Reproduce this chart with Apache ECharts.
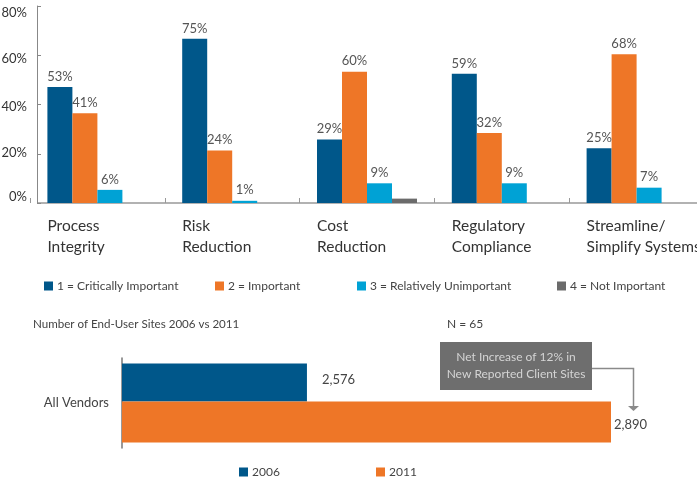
<!DOCTYPE html>
<html>
<head>
<meta charset="utf-8">
<script src="https://cdn.jsdelivr.net/npm/echarts@6/dist/echarts.min.js"></script>
<style>
html,body{margin:0;padding:0;background:#fff;}
#chart{width:697px;height:480px;}
</style>
</head>
<body>
<div id="chart"></div>
<script>
// ---- Data ----
var categories = ['Process\nIntegrity', 'Risk\nReduction', 'Cost\nReduction', 'Regulatory\nCompliance', 'Streamline/\nSimplify Systems'];
var seriesNames = ['1 = Critically Important', '2 = Important', '3 = Relatively Unimportant', '4 = Not Important'];
var critical = [53, 75, 29, 59, 25];
var important = [41, 24, 60, 32, 68];
var relUnimportant = [6, 1, 9, 9, 7];
var notImportant = [null, null, 2, null, null];
var yTickLabels = ['0%', '20%', '40%', '60%', '80%'];

var siteCategories = ['All Vendors'];
var siteYears = ['2006', '2011'];
var sites2006 = [2576];
var sites2011 = [2890];

var subtitle = 'Number of End-User Sites 2006 vs 2011';
var nText = 'N = 65';
var noteText = 'Net Increase of 12% in\nNew Reported Client Sites';

// ---- Style ----
var FONT = 'Lato, "Open Sans", sans-serif';
var C_BLUE = '#00578a', C_ORANGE = '#ee7627', C_CYAN = '#00a2d5', C_GRAY = '#6b6b6b';

function fmtThousands(v) { return String(v).replace(/\B(?=(\d{3})+(?!\d))/g, ','); }

var chart = echarts.init(document.getElementById('chart'), null, {renderer: 'canvas'});

var topLabel = {
  show: true, position: 'top', distance: 4, fontFamily: FONT, fontSize: 13, color: '#555',
  formatter: function (p) { return p.value + '%'; }
};

function legendAt(name, left, top) {
  return {
    data: [name], left: left, top: top, padding: 0, itemWidth: 9, itemHeight: 9, icon: 'rect',
    itemGap: 0, selectedMode: false,
    textStyle: {fontFamily: FONT, fontSize: 12, color: '#444', lineHeight: 14, padding: [0, 0, 0, -1]}
  };
}

// per-tick vertical nudges of y labels (padding top / bottom)
var yTickPad = [[0, 0, 12, 0], [0, 0, 2, 0], [4, 0, 0, 0], [8, 0, 0, 0], [14, 0, 0, 0]];
var yRich = {};
yTickPad.forEach(function (p, i) {
  yRich['t' + i] = {fontFamily: FONT, fontSize: 13, color: '#333', padding: p};
});

var option = {
  animation: false,
  backgroundColor: '#ffffff',
  textStyle: {fontFamily: FONT},
  grid: [
    {left: 30, top: 6, width: 674, height: 197, outerBoundsMode: 'none', containLabel: false},
    {left: 122, top: 358, width: 489, height: 90, outerBoundsMode: 'none', containLabel: false}
  ],
  legend: [
    legendAt(seriesNames[0], 44, 279),
    legendAt(seriesNames[1], 215, 279),
    legendAt(seriesNames[2], 357, 279),
    legendAt(seriesNames[3], 557, 279),
    legendAt(siteYears[0], 239, 465),
    legendAt(siteYears[1], 376, 465)
  ],
  xAxis: [
    {
      gridIndex: 0, type: 'category', data: categories, boundaryGap: true,
      axisLine: {show: false},
      axisTick: {show: true, inside: true, length: 5, lineStyle: {color: '#999'}},
      axisLabel: {
        interval: 0, margin: 12, align: 'center',
        formatter: function (v) { return v.split('\n').map(function (s) { return '{a|' + s + '}'; }).join('\n'); },
        rich: {a: {width: 100, align: 'left', fontFamily: FONT, fontSize: 15.5, lineHeight: 21, color: '#333'}}
      },
      splitLine: {show: false}
    },
    {
      gridIndex: 1, type: 'value', min: 2385, max: 2890, show: false
    }
  ],
  yAxis: [
    {
      gridIndex: 0, type: 'value', min: 0, max: 90, interval: 22.5, offset: -7,
      axisLine: {show: true, lineStyle: {color: '#888', width: 1}},
      axisTick: {show: true, inside: true, length: 4, lineStyle: {color: '#888'}},
      axisLabel: {
        margin: 10,
        formatter: function (v) {
          var i = Math.round(v / 22.5);
          return yTickLabels[i] ? '{t' + i + '|' + yTickLabels[i] + '}' : '';
        },
        rich: yRich
      },
      splitLine: {show: false}
    },
    {
      gridIndex: 1, type: 'category', data: siteCategories,
      axisLine: {show: true, lineStyle: {color: '#777', width: 1.5}},
      axisTick: {show: false},
      axisLabel: {margin: 13, fontFamily: FONT, fontSize: 13, color: '#444'}
    }
  ],
  series: [
    {name: seriesNames[0], type: 'bar', xAxisIndex: 0, yAxisIndex: 0, data: critical, barWidth: 25, barGap: '0%', itemStyle: {color: C_BLUE}, label: topLabel},
    {name: seriesNames[1], type: 'bar', xAxisIndex: 0, yAxisIndex: 0, data: important, barWidth: 25, barGap: '0%', itemStyle: {color: C_ORANGE}, label: topLabel},
    {name: seriesNames[2], type: 'bar', xAxisIndex: 0, yAxisIndex: 0, data: relUnimportant, barWidth: 25, barGap: '0%', itemStyle: {color: C_CYAN}, label: topLabel},
    {name: seriesNames[3], type: 'bar', xAxisIndex: 0, yAxisIndex: 0, data: notImportant, barWidth: 25, barGap: '0%', itemStyle: {color: C_GRAY}, label: {show: false}},
    {
      name: siteYears[0], type: 'bar', xAxisIndex: 1, yAxisIndex: 1, data: sites2006, barWidth: 38, barGap: '0%',
      itemStyle: {color: C_BLUE},
      label: {show: true, position: 'right', distance: 15, offset: [0, -3], fontFamily: FONT, fontSize: 13, color: '#444',
        formatter: function (p) { return fmtThousands(p.value); }}
    },
    {
      name: siteYears[1], type: 'bar', xAxisIndex: 1, yAxisIndex: 1, data: sites2011, barWidth: 41, barGap: '0%',
      itemStyle: {color: C_ORANGE},
      label: {show: true, position: 'right', distance: 3, offset: [0, 3], fontFamily: FONT, fontSize: 13, color: '#444',
        formatter: function (p) { return fmtThousands(p.value); }}
    }
  ],
  graphic: [
    {type: 'line', shape: {x1: 37, y1: 203, x2: 697, y2: 203}, style: {stroke: '#999', lineWidth: 1.5}},
    {type: 'text', left: 33, top: 318, style: {text: subtitle, fontFamily: FONT, fontSize: 11.6, fill: '#444'}},
    {type: 'text', left: 447, top: 318, style: {text: nText, fontFamily: FONT, fontSize: 12, fill: '#444'}},
    {type: 'rect', shape: {x: 440, y: 342, width: 152, height: 48}, style: {fill: '#6e6e6e'}},
    {type: 'text', x: 516, y: 366, style: {text: noteText, fontFamily: FONT, fontSize: 12, lineHeight: 17, fill: '#d4d4d4', align: 'center', verticalAlign: 'middle'}},
    {type: 'polyline', shape: {points: [[592, 368.5], [633.5, 368.5], [633.5, 407]]}, style: {stroke: '#8a8a8a', lineWidth: 1.5, fill: null}},
    {type: 'polygon', shape: {points: [[628, 406], [639, 406], [633.5, 411]]}, style: {fill: '#8a8a8a'}}
  ]
};

chart.setOption(option);
</script>
</body>
</html>
